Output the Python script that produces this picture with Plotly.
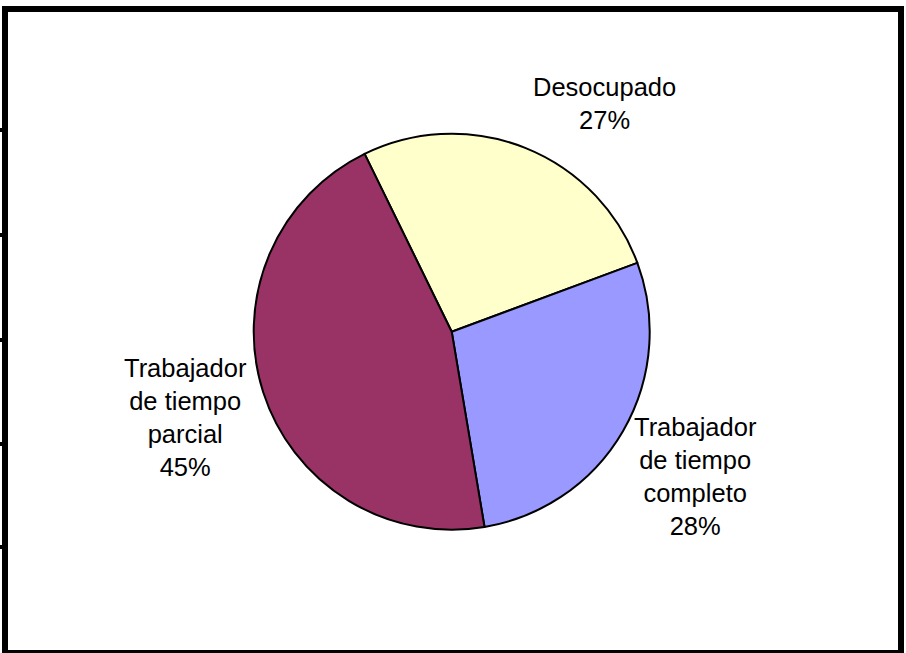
import plotly.graph_objects as go

# ---- data ----
categories = ["Desocupado", "Trabajador de tiempo completo", "Trabajador de tiempo parcial"]
label_text = ["Desocupado", "Trabajador<br>de tiempo<br>completo", "Trabajador<br>de tiempo<br>parcial"]
values = [26.6, 28.0, 45.4]
colors = ["#FFFFCC", "#9999FF", "#993366"]

W, H = 906, 653

def px_x(x):
    return x / W

def px_y(y):
    return 1 - y / H

# pie geometry (pixels)
cx, cy, r = 451.7, 331.7, 198.0

fig = go.Figure(
    go.Pie(
        labels=categories,
        values=values,
        sort=False,
        direction="clockwise",
        rotation=-26.1,
        marker=dict(colors=colors, line=dict(color="black", width=2)),
        textinfo="none",
        hoverinfo="label+percent",
        domain=dict(x=[px_x(cx - r), px_x(cx + r)], y=[px_y(cy + r), px_y(cy - r)]),
        showlegend=False,
    )
)

# labels outside the pie (text built from the data)
total = sum(values)
label_pos = [(604, 103), (695, 476), (185, 417)]
annotations = []
for txt, v, (lx, ly) in zip(label_text, values, label_pos):
    pct = round(v / total * 100)
    annotations.append(
        dict(
            x=px_x(lx), y=px_y(ly), xref="paper", yref="paper",
            text=f"{txt}<br>{pct}%", showarrow=False,
            xanchor="center", yanchor="middle", align="center",
            font=dict(family="Liberation Sans, Arial", size=25.5, color="black"),
        )
    )

# frame
shapes = []
def rect(x0, y0, x1, y1):
    shapes.append(dict(type="rect", xref="paper", yref="paper",
                       x0=px_x(x0), x1=px_x(x1), y0=px_y(y1), y1=px_y(y0),
                       fillcolor="black", line=dict(width=0), layer="above"))

rect(2, 6, 904, 12)      # top
rect(2, 6, 8, 653)       # left
rect(898, 6, 904, 653)   # right
rect(2, 650, 904, 653)   # bottom
for ty in [130, 235, 340, 444, 547]:
    rect(0, ty - 2, 8, ty + 2)

fig.update_layout(
    width=W, height=H,
    margin=dict(l=0, r=0, t=0, b=0),
    paper_bgcolor="white", plot_bgcolor="white",
    annotations=annotations,
    shapes=shapes,
)

fig.write_html(
    "out.html",
    config={"displayModeBar": False},
    post_script="document.body.style.margin='0';document.body.style.overflow='hidden';",
)
